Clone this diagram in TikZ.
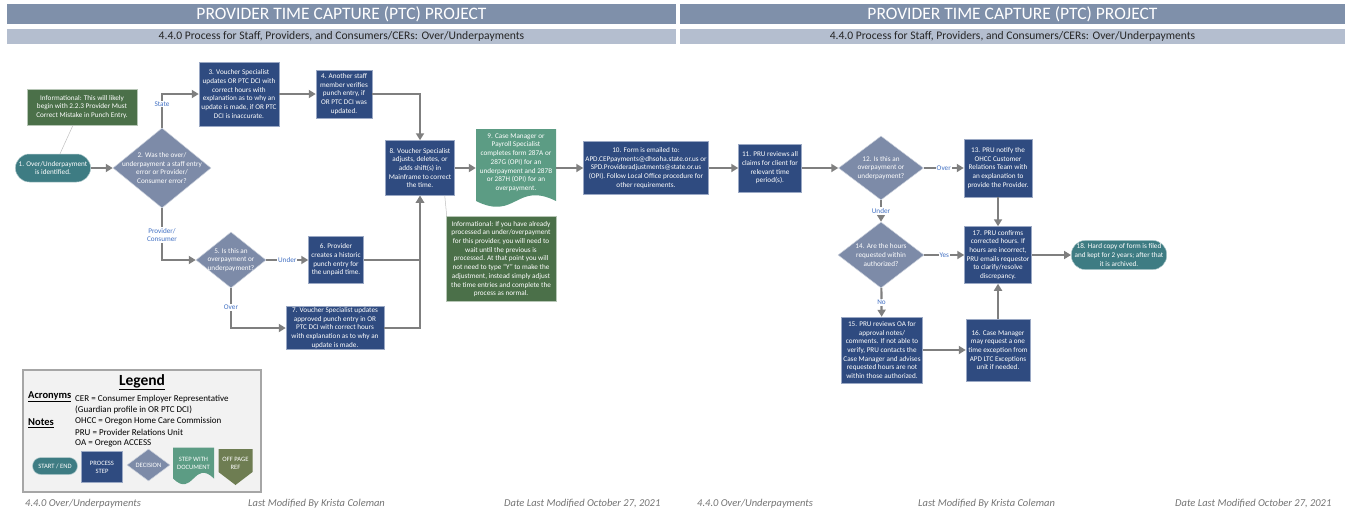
\documentclass[tikz,border=0pt]{standalone}
\usepackage{fontspec}
\setmainfont{Carlito}
\usetikzlibrary{shapes.geometric,arrows.meta,calc}

\definecolor{barblue}{HTML}{7F90AA}
\definecolor{subbar}{HTML}{B4BECF}
\definecolor{procblue}{HTML}{2F4B80}
\definecolor{procedge}{HTML}{9AA8C4}
\definecolor{decgray}{HTML}{7D8BA8}
\definecolor{termteal}{HTML}{3E7C83}
\definecolor{infogreen}{HTML}{4B7049}
\definecolor{docgreen}{HTML}{5C9C84}
\definecolor{offolive}{HTML}{6E7D52}
\definecolor{linegray}{HTML}{7F7F7F}
\definecolor{lblblue}{HTML}{4472C4}
\definecolor{legfill}{HTML}{F2F2F2}
\definecolor{legedge}{HTML}{A6A6A6}

\newcommand{\boxfont}{\fontsize{7.2}{8.7}\selectfont}
\newcommand{\smallboxfont}{\fontsize{6.6}{8}\selectfont}

\begin{document}
\begin{tikzpicture}[x=1pt,y=-1pt,font=\boxfont,
    proc/.style={rectangle, fill=procblue, draw=procedge, line width=0.5pt, text=white, align=center, inner sep=1pt},
    dec/.style={diamond, fill=decgray, draw=white!60!decgray, line width=0.5pt, inner sep=0pt},
    dectext/.style={align=center, text=white, font=\boxfont, inner sep=0pt},
    term/.style={rectangle, rounded corners=#1, fill=termteal, draw=white!60!termteal, line width=0.5pt, text=white, align=center},
    info/.style={rectangle, fill=infogreen, draw=white!60!infogreen, line width=0.5pt, text=white, align=center, inner sep=1pt},
    doc/.style={rectangle, text=white, align=center, inner sep=1pt, path picture={
        \fill[#1] (path picture bounding box.north west) -- (path picture bounding box.north east)
          -- ([yshift=6pt]path picture bounding box.south east)
          .. controls ([yshift=26pt]path picture bounding box.south) and ([yshift=-14pt]path picture bounding box.south)
          .. ([yshift=6pt]path picture bounding box.south west) -- cycle;}},
    offpage/.style={rectangle, text=white, align=center, inner sep=1pt, path picture={
        \fill[#1] (path picture bounding box.north west) -- (path picture bounding box.north east)
          -- ([yshift=13pt]path picture bounding box.south east) -- (path picture bounding box.south)
          -- ([yshift=13pt]path picture bounding box.south west) -- cycle;}},
    arr/.style={draw=linegray, line width=2.2pt, -{Triangle[length=7pt,width=8pt]}},
    infoline/.style={draw=black!25, line width=0.5pt},
    lbl/.style={font=\boxfont, text=lblblue, fill=white, inner sep=1pt, align=center}]

  \useasboundingbox (0,0) rectangle (1348,514);

  \begin{scope}[every node/.style={text=white, font=\fontsize{17.5}{20}\selectfont, inner sep=0pt, minimum height=20pt}]
    \node (titleL) at (341.5,14) [fill=barblue, minimum width=669pt] {PROVIDER TIME CAPTURE (PTC) PROJECT};
    \node (titleR) at (1012.5,14) [fill=barblue, minimum width=665pt] {PROVIDER TIME CAPTURE (PTC) PROJECT};
  \end{scope}
  \begin{scope}[every node/.style={text=black!85, font=\fontsize{11.6}{13}\selectfont, inner sep=0pt, minimum height=15pt}]
    \node (subL) at (341.5,36.5) [fill=subbar, minimum width=669pt] {4.4.0 Process for Staff, Providers, and Consumers/CERs: Over/Underpayments};
    \node (subR) at (1012.5,36.5) [fill=subbar, minimum width=665pt] {4.4.0 Process for Staff, Providers, and Consumers/CERs: Over/Underpayments};
  \end{scope}

  \node (i1) at (82,107) [info, minimum width=110pt, minimum height=36pt] {Informational: This will likely\\ begin with 2.2.3 Provider Must\\ Correct Mistake in Punch Entry.};
  \node (1) at (53,168) [term=14pt, minimum width=73pt, minimum height=28pt] {1. Over/Underpayment\\ is identified.};
  \node (2) at (162,168) [dec, minimum width=98pt, minimum height=80pt,
    label={[dectext]center:{2. Was the over/\\ underpayment a staff entry\\ error or Provider/\\ Consumer error?}}] {};
  \node (3) at (239,94) [proc, minimum width=80pt, minimum height=64pt] {3. Voucher Specialist\\ updates OR PTC DCI with\\ correct hours with\\ explanation as to why an\\ update is made, if OR PTC\\ DCI is inaccurate.};
  \node (4) at (344,94) [proc, minimum width=56pt, minimum height=48pt] {4. Another staff\\ member verifies\\ punch entry, if\\ OR PTC DCI was\\ updated.};
  \node (5) at (231,260) [dec, minimum width=70pt, minimum height=56pt,
    label={[dectext]center:{5. Is this an\\ overpayment or\\ underpayment?}}] {};
  \node (6) at (336,260) [proc, minimum width=55pt, minimum height=47pt] {6. Provider\\ creates a historic\\ punch entry for\\ the unpaid time.};
  \node (7) at (335,328) [proc, minimum width=98pt, minimum height=42pt] {7. Voucher Specialist updates\\ approved punch entry in OR\\ PTC DCI with correct hours\\ with explanation as to why an\\ update is made.};
  \node (8) at (420,168) [proc, minimum width=69pt, minimum height=55pt] {8. Voucher Specialist\\ adjusts, deletes, or\\ adds shift(s) in\\ Mainframe to correct\\ the time.};
  \node (9) at (516,168) [doc=docgreen, minimum width=80pt, minimum height=78pt, text depth=12pt] {9. Case Manager or\\ Payroll Specialist\\ completes form 287A or\\ 287G (OPI) for an\\ underpayment and 287B\\ or 287H (OPI) for an\\ overpayment.};
  \node (i2) at (501,259) [info, minimum width=110pt, minimum height=85pt] {Informational: If you have already\\ processed an under/overpayment\\ for this provider, you will need to\\ wait until the previous is\\ processed. At that point you will\\ not need to type “Y” to make the\\ adjustment, instead simply adjust\\ the time entries and complete the\\ process as normal.};
  \node (10) at (646,168) [proc, minimum width=125pt, minimum height=53pt] {10. Form is emailed to:\\ APD.CEPpayments@dhsoha.state.or.us or\\ SPD.Provideradjustments@state.or.us\\ (OPI). Follow Local Office procedure for\\ other requirements.};
  \node (11) at (770,168) [proc, minimum width=63pt, minimum height=48pt] {11. PRU reviews all\\ claims for client for\\ relevant time\\ period(s).};
  \node (12) at (881,168) [dec, minimum width=85pt, minimum height=64pt,
    label={[dectext]center:{12. Is this an\\ overpayment or\\ underpayment?}}] {};
  \node (13) at (998,168) [proc, minimum width=68pt, minimum height=58pt] {13. PRU notify the\\ OHCC Customer\\ Relations Team with\\ an explanation to\\ provide the Provider.};
  \node (14) at (881,255) [dec, minimum width=86pt, minimum height=66pt,
    label={[dectext]center:{14. Are the hours\\ requested within\\ authorized?}}] {};
  \node (17) at (998,255) [proc, minimum width=67pt, minimum height=57pt] {17. PRU confirms\\ corrected hours. If\\ hours are incorrect,\\ PRU emails requestor\\ to clarify/resolve\\ discrepancy.};
  \node (15) at (882,350) [proc, minimum width=81pt, minimum height=66pt] {15. PRU reviews OA for\\ approval notes/\\ comments. If not able to\\ verify, PRU contacts the\\ Case Manager and advises\\ requested hours are not\\ within those authorized.};
  \node (16) at (998,350) [proc, minimum width=64pt, minimum height=62pt] {16. Case Manager\\ may request a one\\ time exception from\\ APD LTC Exceptions\\ unit if needed.};
  \node (18) at (1119,255) [term=14pt, minimum width=94pt, minimum height=28pt] {18. Hard copy of form is filed\\ and kept for 2 years; after that\\ it is archived.};

  \draw[infoline] ([xshift=-9pt]i1.south) -- ([xshift=7pt]1.north);
  \draw[infoline] ([xshift=-10pt]8.south east) -- ([xshift=1pt]i2.north west);

  \draw[arr] (1) -- (2);
  \draw[arr] (2.north) |- node[lbl, pos=0.35] {State} (3.west);
  \draw[arr] (3) -- (4);
  \draw[arr] (4.east) -| (8.north);
  \draw[arr] (2.south) |- node[lbl, pos=0.26] {Provider/\\ Consumer} (5.west);
  \draw[arr] (5) -- node[lbl] {Under} (6);
  \draw[arr] (5.south) |- node[lbl, pos=0.24] {Over} (7.west);
  \draw[arr] (6.east) -| (8.south);
  \draw[arr] (7.east) -| (8.south);
  \draw[arr] (8) -- (9);
  \draw[arr] (9) -- (10);
  \draw[arr] (10) -- (11);
  \draw[arr] (11) -- (12);
  \draw[arr] (12) -- node[lbl] {Over} (13);
  \draw[arr] (12) -- node[lbl] {Under} (14);
  \draw[arr] (13) -- (17);
  \draw[arr] (14) -- node[lbl] {Yes} (17);
  \draw[arr] (14) -- node[lbl] {No} (15);
  \draw[arr] (15) -- (16);
  \draw[arr] (16) -- (17);
  \draw[arr] (17) -- (18);

  \node (legend) at (142,431) [draw=legedge, fill=legfill, line width=1.2pt, minimum width=238pt, minimum height=122pt] {};
  \node (legtitle) at (142,382) [font=\fontsize{15.5}{18}\selectfont\bfseries] {\underline{Legend}};
  \begin{scope}[every node/.style={anchor=west, inner sep=0pt, font=\fontsize{10.5}{12}\selectfont\bfseries}]
    \node (acro) at (28,397) {\underline{Acronyms}};
    \node (notes) at (28,423) {\underline{Notes}};
  \end{scope}
  \begin{scope}[every node/.style={anchor=west, inner sep=0pt, font=\fontsize{9}{11}\selectfont}]
    \node (cer) at (75,399) {CER = Consumer Employer Representative};
    \node (guard) at (75,410) {(Guardian profile in OR PTC DCI)};
    \node (ohcc) at (75,421) {OHCC = Oregon Home Care Commission};
    \node (pru) at (75,432) {PRU = Provider Relations Unit};
    \node (oa) at (75,443) {OA = Oregon ACCESS};
  \end{scope}
  \begin{scope}[every node/.style={font=\smallboxfont}]
    \node (kterm) at (55,466) [term=8.5pt, minimum width=45pt, minimum height=17pt, inner sep=0pt] {START / END};
    \node (kproc) at (102,467) [proc, minimum width=41pt, minimum height=31pt] {PROCESS\\ STEP};
    \node (kdec) at (148.5,465) [dec, minimum width=43pt, minimum height=32pt,
      label={[dectext, font=\smallboxfont]center:DECISION}] {};
    \node (kdoc) at (193.5,466) [doc=docgreen, minimum width=41pt, minimum height=37pt, text depth=6pt] {STEP WITH\\ DOCUMENT};
    \node (koff) at (235.5,467) [offpage=offolive, minimum width=34pt, minimum height=36pt, text depth=8pt] {OFF PAGE\\ REF};
  \end{scope}

  \begin{scope}[every node/.style={anchor=west, inner sep=0pt, text=black!55, font=\fontsize{10.5}{12}\selectfont\itshape}]
    \node (f1) at (25,504) {4.4.0 Over/Underpayments};
    \node (f2) at (248,504) {Last Modified By Krista Coleman};
    \node (f3) at (504,504) {Date Last Modified October 27, 2021};
    \node (f4) at (697,504) {4.4.0 Over/Underpayments};
    \node (f5) at (918,504) {Last Modified By Krista Coleman};
    \node (f6) at (1175,504) {Date Last Modified October 27, 2021};
  \end{scope}

\end{tikzpicture}
\end{document}
